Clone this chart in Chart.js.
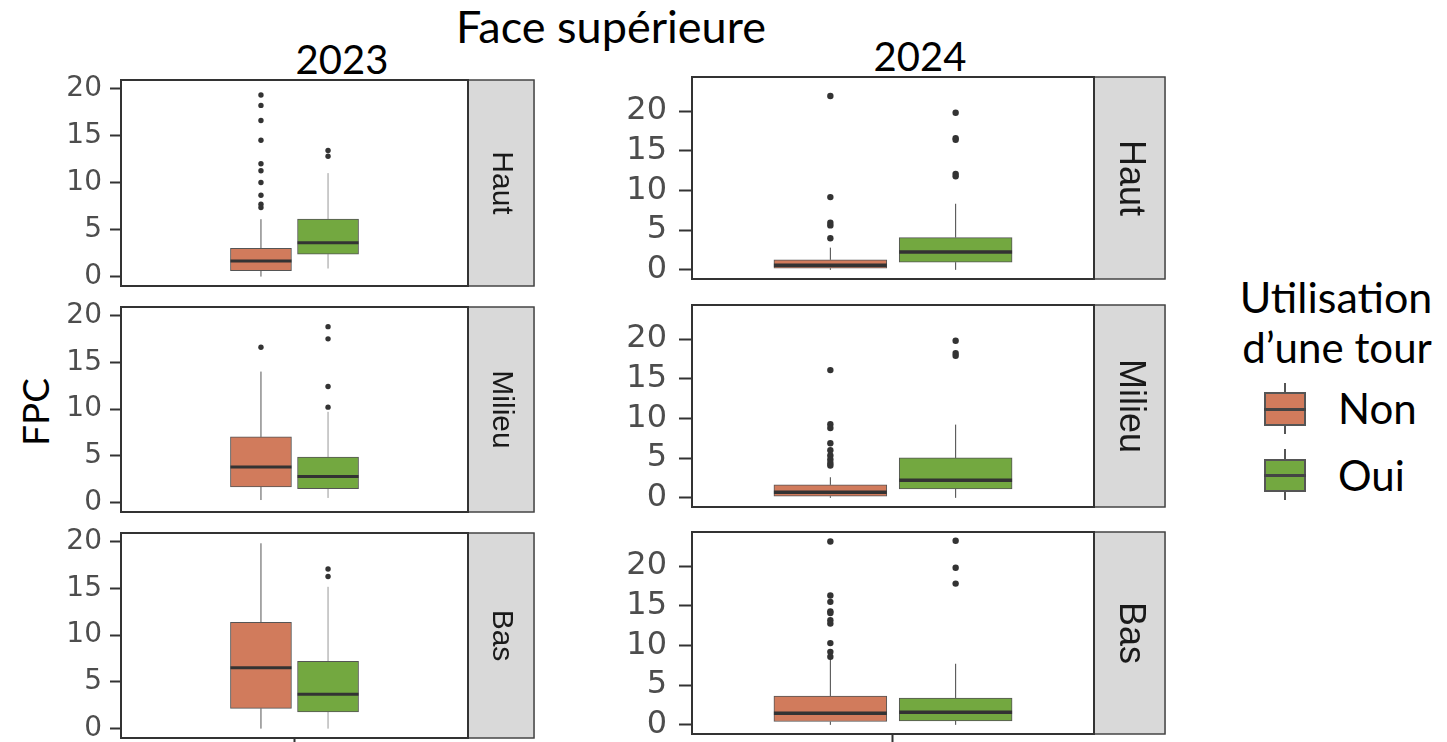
<!DOCTYPE html>
<html>
<head>
<meta charset="utf-8">
<script src="https://cdn.jsdelivr.net/npm/chart.js@4.4.1/dist/chart.umd.min.js"></script>
<style>
  body { margin: 0; width: 1447px; height: 742px; background: #fff; position: relative; overflow: hidden; }
  canvas { position: absolute; }
  .txt { position: absolute; font-family: Lato, "Open Sans", sans-serif; color: #000; line-height: 1; white-space: nowrap; }
  .key { position: absolute; box-sizing: border-box; }
</style>
</head>
<body>
<div class="txt" id="title" style="left:611px; top:4px; font-size:45px; transform:translateX(-50%);">Face supérieure</div>
<div class="txt" style="left:342px; top:39px; font-size:40px; transform:translateX(-50%);">2023</div>
<div class="txt" style="left:920px; top:36px; font-size:40px; transform:translateX(-50%);">2024</div>
<div class="txt" style="left:34px; top:412px; font-size:37px; transform:translate(-50%,-50%) rotate(-90deg);">FPC</div>
<div class="txt" style="left:1336px; top:275px; font-size:43px; transform:translateX(-50%);">Utilisation</div>
<div class="txt" style="left:1337px; top:326px; font-size:42px; transform:translateX(-50%);">d’une tour</div>
<div class="txt" style="left:1338px; top:387px; font-size:42px;">Non</div>
<div class="txt" style="left:1338px; top:454px; font-size:42px;">Oui</div>

<script>
// groupes et facettes
const categories = ['Non', 'Oui'];
const years = ['2023', '2024'];
const zones = ['Haut', 'Milieu', 'Bas'];
const yTicks = [0, 5, 10, 15, 20];

// boîtes : [min moustache, Q1, médiane, Q3, max moustache] pour Non puis Oui
const box2023Haut = [[0, 0.64, 1.67, 3.0, 6.1], [0.86, 2.39, 3.6, 6.12, 11.0]];
const box2023Milieu = [[0.28, 1.67, 3.8, 7.02, 14.0], [0.5, 1.5, 2.78, 4.87, 9.7]];
const box2023Bas = [[0, 2.17, 6.5, 11.35, 19.8], [0, 1.78, 3.67, 7.2, 15.15]];
const box2024Haut = [[0, 0.21, 0.59, 1.26, 2.8], [0, 0.97, 2.26, 4.07, 8.33]];
const box2024Milieu = [[0, 0.21, 0.72, 1.64, 2.6], [0, 1.13, 2.23, 5.03, 9.23]];
const box2024Bas = [[0, 0.42, 1.47, 3.64, 8.3], [0, 0.5, 1.6, 3.39, 7.7]];

// valeurs extrêmes (points)
const out2023Haut = [[19.3, 18.2, 16.6, 14.5, 12.0, 11.25, 10.0, 8.65, 7.7, 7.35], [13.4, 12.8]];
const out2023Milieu = [[16.6], [18.8, 17.5, 12.4, 10.2]];
const out2023Bas = [[], [17.05, 16.25]];
const out2024Haut = [[21.9, 9.17, 5.95, 5.6, 3.98], [19.8, 16.6, 16.4, 12.1, 11.8]];
const out2024Milieu = [[16.1, 9.27, 8.8, 6.88, 6.0, 5.33, 4.83, 4.4, 4.08], [19.8, 18.24, 17.9]];
const out2024Bas = [[23.1, 16.3, 15.5, 14.3, 14.1, 13.18, 12.76, 10.3, 9.2, 8.58], [23.2, 19.8, 17.8]];

const colors = ['#D17B5C', '#73A840'];

// mise en page des deux colonnes (pixels)
const layout = {
  '2023': { left: 121, right: 468, stripW: 67, axisW: 71, yMin: -1, yMax: 20.9,
            rows: [[80, 286], [307, 512], [533, 738]], boxW: 0.211, dodge: 0.116,
            font: 28, tickLen: 11, tickPad: 8, stripFont: 30, ptR: 2.7, medW: 3,
            whisker: ['#555', '#999'] },
  '2024': { left: 692, right: 1094, stripW: 72, axisW: 92, yMin: -1.15, yMax: 24.3,
            rows: [[77, 279], [305, 507], [532, 734]], boxW: 0.337, dodge: 0.187,
            font: 32, tickLen: 13, tickPad: 12, stripFont: 36, ptR: 3.2, medW: 3.5,
            whisker: ['#444', '#444'] }
};
const panels = {
  '2023': [[box2023Haut, out2023Haut], [box2023Milieu, out2023Milieu], [box2023Bas, out2023Bas]],
  '2024': [[box2024Haut, out2024Haut], [box2024Milieu, out2024Milieu], [box2024Bas, out2024Bas]]
};

// cadre du panneau + bandeau gris avec le nom de la zone
const panelFrame = {
  id: 'panelFrame',
  afterDatasetsDraw(chart, args, opts) {
    const { ctx, chartArea: a } = chart;
    ctx.save();
    ctx.fillStyle = '#d9d9d9';
    ctx.fillRect(a.right, a.top, opts.stripW, a.bottom - a.top);
    ctx.strokeStyle = '#444';
    ctx.lineWidth = 1.5;
    ctx.strokeRect(a.right, a.top, opts.stripW - 1, a.bottom - a.top);
    ctx.strokeStyle = '#333';
    ctx.lineWidth = 2;
    ctx.strokeRect(a.left, a.top, a.right - a.left, a.bottom - a.top);
    ctx.translate(a.right + opts.stripW / 2, (a.top + a.bottom) / 2);
    ctx.rotate(Math.PI / 2);
    ctx.fillStyle = '#1a1a1a';
    ctx.font = opts.fontSize + 'px "Liberation Sans", Arial, sans-serif';
    ctx.textAlign = 'center';
    ctx.textBaseline = 'middle';
    ctx.fillText(opts.label, 0, 0);
    ctx.restore();
  }
};

const PAD = 44;

years.forEach(year => {
  const col = layout[year];
  zones.forEach((zone, r) => {
    const [boxes, outs] = panels[year][r];
    const [top, bottom] = col.rows[r];
    const isBottom = r === zones.length - 1;
    const cv = document.createElement('canvas');
    const x0 = col.left - col.axisW;
    cv.width = col.right + col.stripW - x0;
    cv.height = bottom - top + 2 * PAD;
    cv.style.left = x0 + 'px';
    cv.style.top = (top - PAD) + 'px';
    document.body.appendChild(cv);

    const pxPerUnit = (col.right - col.left) / 1.2;
    const hw = col.boxW / 2;
    const datasets = [];
    categories.forEach((cat, i) => {
      const xc = 1 + (i === 0 ? -col.dodge : col.dodge);
      const [lo, q1, med, q3, hi] = boxes[i];
      datasets.push({ type: 'scatter', order: 0, data: outs[i].map(v => ({ x: xc, y: v })),
        pointRadius: col.ptR, pointBackgroundColor: '#333', pointBorderWidth: 0 });
      datasets.push({ type: 'line', order: 1, data: [{ x: xc - hw, y: med }, { x: xc + hw, y: med }],
        borderColor: '#333', borderWidth: col.medW, pointRadius: 0, borderCapStyle: 'butt' });
      datasets.push({ type: 'bar', order: 2, data: [{ x: xc, y: [q1, q3] }],
        backgroundColor: colors[i], borderColor: '#555', borderWidth: 1, borderSkipped: false,
        barThickness: col.boxW * pxPerUnit, grouped: false });
      datasets.push({ type: 'line', order: 3, data: [{ x: xc, y: lo }, { x: xc, y: q1 }],
        borderColor: col.whisker[i], borderWidth: 1, pointRadius: 0 });
      datasets.push({ type: 'line', order: 3, data: [{ x: xc, y: q3 }, { x: xc, y: hi }],
        borderColor: col.whisker[i], borderWidth: 1, pointRadius: 0 });
    });

    new Chart(cv, {
      type: 'bar',
      data: { datasets },
      plugins: [panelFrame],
      options: {
        responsive: false,
        animation: false,
        devicePixelRatio: 1,
        layout: { padding: { left: 0, right: col.stripW, top: PAD, bottom: PAD } },
        plugins: {
          legend: { display: false },
          tooltip: { enabled: false },
          panelFrame: { stripW: col.stripW, label: zone, fontSize: col.stripFont }
        },
        scales: {
          x: {
            type: 'linear', min: 0.4, max: 1.6, offset: false,
            afterBuildTicks: s => { s.ticks = [{ value: 1 }]; },
            afterFit: s => { s.height = 0; },
            ticks: { display: false },
            grid: { offset: false, drawOnChartArea: false, drawTicks: isBottom, tickLength: 8, tickColor: '#333', tickWidth: 2 },
            border: { display: false }
          },
          y: {
            min: col.yMin, max: col.yMax,
            afterBuildTicks: s => { s.ticks = yTicks.map(v => ({ value: v })); },
            afterFit: s => { s.width = col.axisW; },
            ticks: { autoSkip: false, color: '#4d4d4d', padding: col.tickPad,
                     font: { family: '"DejaVu Sans", sans-serif', size: col.font } },
            grid: { drawOnChartArea: false, drawTicks: true, tickLength: col.tickLen, tickColor: '#333', tickWidth: 2 },
            border: { display: false }
          }
        }
      }
    });
  });
});

// clés de la légende (boîte à moustaches miniature)
const keyTops = [[383, 392, 426, 434], [449, 459, 492, 500]];
categories.forEach((cat, i) => {
  const [wTop, bTop, bBot, wBot] = keyTops[i];
  const whisk = document.createElement('div');
  whisk.className = 'key';
  Object.assign(whisk.style, { left: '1284px', top: wTop + 'px', width: '2px', height: (wBot - wTop) + 'px', background: '#555' });
  document.body.appendChild(whisk);
  const box = document.createElement('div');
  box.className = 'key';
  Object.assign(box.style, { left: '1264px', top: bTop + 'px', width: '42px', height: (bBot - bTop) + 'px',
    background: colors[i], border: '2px solid #555' });
  document.body.appendChild(box);
  const med = document.createElement('div');
  med.className = 'key';
  Object.assign(med.style, { left: '1264px', top: ((bTop + bBot) / 2 - 1.5) + 'px', width: '42px', height: '3px', background: '#444' });
  document.body.appendChild(med);
});
</script>
</body>
</html>
